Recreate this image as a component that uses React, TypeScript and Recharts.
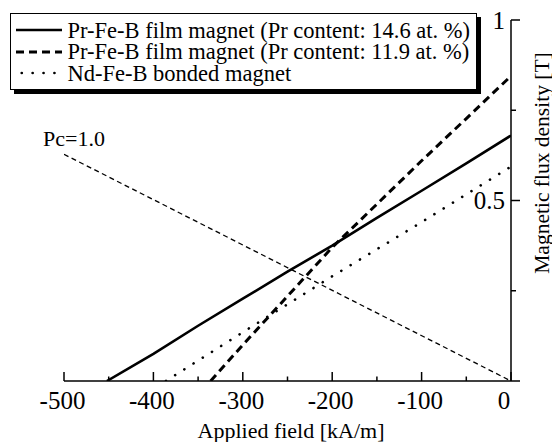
import { LineChart, Line, XAxis, YAxis, Legend, Label, LabelList } from 'recharts';

const SERIF = "'Liberation Serif'";

// applied field H [kA/m] vs flux density B [T]
const fieldTicks = [-500, -450, -400, -350, -300, -250, -200, -150, -100, -50, 0];
const fluxTicks = [0, 0.25, 0.5, 0.75, 1];
const fluxTickLabels = ['', '', '0.5', '', '1'];

const film146Field = [-452, -400, -350, -300, -250, -200, -150, -100, -50, 0];
const film146Flux = [0, 0.075, 0.153, 0.228, 0.303, 0.375, 0.452, 0.527, 0.603, 0.68];

const film119Field = [-336, -300, -250, -200, -150, -100, -50, 0];
const film119Flux = [0, 0.1, 0.235, 0.37, 0.49, 0.61, 0.727, 0.845];

const bondedField = [-386, -300, -200, -100, 0];
const bondedFlux = [0, 0.135, 0.29, 0.44, 0.594];

// permeance line Pc = 1.0
const loadField = [-500, 0];
const loadFlux = [0.628, 0];

const seriesNames = [
  'Pr-Fe-B film magnet (Pr content: 14.6 at. %)',
  'Pr-Fe-B film magnet (Pr content: 11.9 at. %)',
  'Nd-Fe-B bonded magnet',
];

const seriesStyles = [
  { width: 2.6, dash: undefined, cap: 'butt' },
  { width: 3, dash: '8 5', cap: 'butt' },
  { width: 2.6, dash: '0.1 10.8', cap: 'round' },
];

const toPoints = (h: number[], b: number[]) => h.map((v, i) => ({ h: v, b: b[i] }));

function FieldTick(props: any) {
  const { x, y, payload } = props;
  const v = payload.value;
  const major = v % 100 === 0;
  return (
    <g>
      <line x1={x} y1={y} x2={x} y2={y - (major ? 9 : 4.5)} stroke="#000" strokeWidth={1.5} />
      {major && (
        <text
          x={v === 0 ? x - 7 : x - 1.5}
          y={y + 27.5}
          textAnchor="middle"
          style={{ fontSize: 25, fontFamily: SERIF }}
          fill="#000"
        >
          {v}
        </text>
      )}
    </g>
  );
}

function FluxTick(props: any) {
  const { x, y, payload, index } = props;
  const v = payload.value;
  const major = v === 0 || v === 0.5 || v === 1;
  const label = fluxTickLabels[index];
  return (
    <g>
      <line x1={x} y1={y} x2={x + (major ? 9 : 5)} y2={y} stroke="#000" strokeWidth={1.5} />
      {label && (
        <text x={x - 6} y={y + 8.5} textAnchor="end" style={{ fontSize: 25, fontFamily: SERIF }} fill="#000">
          {label}
        </text>
      )}
    </g>
  );
}

function FluxTitle(props: any) {
  const { x, y } = props.viewBox;
  return (
    <text
      transform={`translate(${x + 30.5},${y + 143}) rotate(-90)`}
      textAnchor="middle"
      dominantBaseline="central"
      style={{ fontSize: 21.5, fontFamily: SERIF }}
      fill="#000"
    >
      Magnetic flux density [T]
    </text>
  );
}

function FieldTitle(props: any) {
  const { x, y, width } = props.viewBox;
  return (
    <text
      x={x + width / 2 + 3.5}
      y={y + 57}
      textAnchor="middle"
      style={{ fontSize: 22, fontFamily: SERIF }}
      fill="#000"
    >
      Applied field [kA/m]
    </text>
  );
}

function PcLabel(props: any) {
  if (props.index !== 0) return null;
  return (
    <text x={props.x - 21} y={props.y - 8} style={{ fontSize: 22, fontFamily: SERIF }} fill="#000">
      Pc=1.0
    </text>
  );
}

function MagnetLegend() {
  return (
    <div
      style={{
        border: '1.5px solid #000',
        boxShadow: '4px 4px 0 #000',
        background: '#fff',
        padding: '5.5px 4px 5px 4.5px',
        color: '#000',
        width: 456,
        boxSizing: 'content-box',
      }}
    >
      {seriesNames.map((name, i) => {
        const s = seriesStyles[i];
        return (
          <div key={name} style={{ display: 'flex', alignItems: 'center', height: 21.5, whiteSpace: 'nowrap' }}>
            <svg width={46} height={10} style={{ marginRight: 6, flex: 'none' }}>
              <line
                x1={s.cap === 'round' ? 5.7 : 0}
                y1={5}
                x2={46}
                y2={5}
                stroke="#000"
                strokeWidth={s.width}
                strokeDasharray={s.dash}
                strokeLinecap={s.cap as any}
              />
            </svg>
            <span style={{ lineHeight: '21.5px', fontSize: 22.5, fontFamily: SERIF }}>{name}</span>
          </div>
        );
      })}
    </div>
  );
}

export default function App() {
  return (
    <div style={{ position: 'absolute', left: 0, top: 0, background: '#fff' }}>
      <LineChart width={552} height={442} margin={{ top: 20, right: 0, bottom: 0, left: 64 }}>
        <XAxis
          type="number"
          dataKey="h"
          domain={[-500, 0]}
          ticks={fieldTicks}
          interval={0}
          height={61}
          tickSize={0}
          tickMargin={0}
          tickLine={false}
          axisLine={{ stroke: '#000', strokeWidth: 1.5 }}
          tick={<FieldTick />}
          allowDataOverflow
        >
          <Label content={<FieldTitle />} />
        </XAxis>
        <YAxis
          type="number"
          orientation="right"
          domain={[0, 1]}
          ticks={fluxTicks}
          interval={0}
          width={41}
          tickSize={0}
          tickMargin={0}
          tickLine={false}
          axisLine={{ stroke: '#000', strokeWidth: 1.5 }}
          tick={<FluxTick />}
          allowDataOverflow
        >
          <Label content={<FluxTitle />} />
        </YAxis>
        <Legend
          layout="vertical"
          align="center"
          verticalAlign="middle"
          content={<MagnetLegend />}
          wrapperStyle={{ left: 10, top: 13, width: 'auto', height: 'auto', bottom: 'auto' }}
        />
        <Line
          data={toPoints(loadField, loadFlux)}
          dataKey="b"
          name="Pc=1.0"
          legendType="none"
          stroke="#000"
          strokeWidth={1.3}
          strokeDasharray="5 3.5"
          dot={false}
          activeDot={false}
          isAnimationActive={false}
        >
          <LabelList dataKey="b" content={<PcLabel />} />
        </Line>
        <Line
          data={toPoints(film146Field, film146Flux)}
          dataKey="b"
          name={seriesNames[0]}
          stroke="#000"
          strokeWidth={seriesStyles[0].width}
          dot={false}
          activeDot={false}
          isAnimationActive={false}
        />
        <Line
          data={toPoints(film119Field, film119Flux)}
          dataKey="b"
          name={seriesNames[1]}
          stroke="#000"
          strokeWidth={seriesStyles[1].width}
          strokeDasharray={seriesStyles[1].dash}
          dot={false}
          activeDot={false}
          isAnimationActive={false}
        />
        <Line
          data={toPoints(bondedField, bondedFlux)}
          dataKey="b"
          name={seriesNames[2]}
          stroke="#000"
          strokeWidth={seriesStyles[2].width}
          strokeDasharray={seriesStyles[2].dash}
          strokeLinecap="round"
          dot={false}
          activeDot={false}
          isAnimationActive={false}
        />
      </LineChart>
    </div>
  );
}
